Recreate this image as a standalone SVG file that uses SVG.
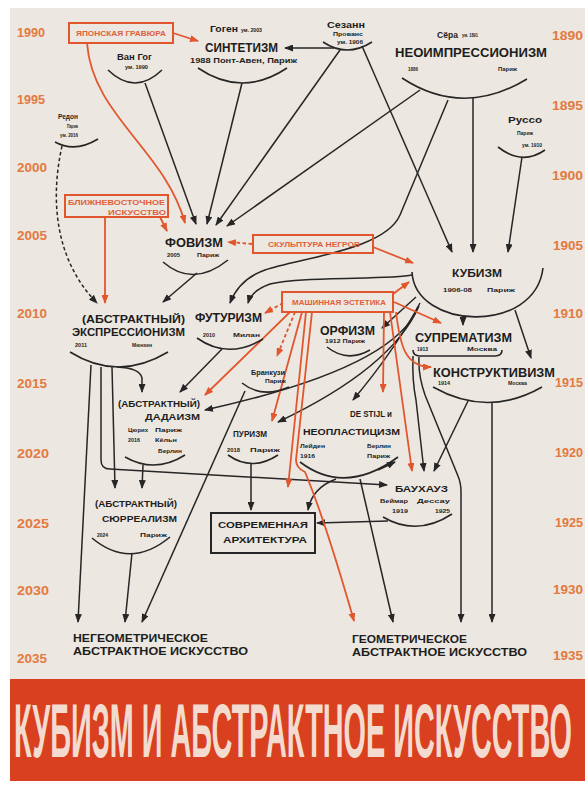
<svg xmlns="http://www.w3.org/2000/svg" width="585" height="789" viewBox="0 0 585 789">
<defs>
<style>
.t{font-family:"Liberation Sans",Arial,sans-serif;font-weight:bold;fill:#1d1d1d}
.o{font-family:"Liberation Sans",Arial,sans-serif;font-weight:bold;fill:#e0603a}
.yr{font-family:"Liberation Sans",Arial,sans-serif;font-weight:bold;fill:#e37a40;font-size:12px}
.ln{fill:none;stroke:#262626;stroke-width:1.5}
.ol{fill:none;stroke:#e2562e;stroke-width:1.8}
.arc{fill:none;stroke:#262626;stroke-width:1.6}
.box{fill:none;stroke:#e2562e;stroke-width:2}
.d{stroke-dasharray:3.5,2.5}
.title{font-family:"Liberation Sans",Arial,sans-serif;font-weight:bold;fill:#f3dccf;font-size:26px}
</style>
<marker id="ab" markerUnits="userSpaceOnUse" markerWidth="9" markerHeight="7" refX="8" refY="3.5" orient="auto"><path d="M0,0 L9,3.5 L0,7 z" fill="#262626"/></marker>
<marker id="ao" markerUnits="userSpaceOnUse" markerWidth="9" markerHeight="7" refX="8" refY="3.5" orient="auto"><path d="M0,0 L9,3.5 L0,7 z" fill="#e2562e"/></marker>
</defs>
<rect x="0" y="0" width="585" height="789" fill="#ffffff"/>
<rect x="10" y="8" width="575" height="671" fill="#ece7e0"/>
<rect x="10" y="679" width="575" height="102" fill="#d9401f"/>
<g id="title" transform="translate(14,757) scale(1,2.9)">
<text class="title" x="0" y="0" textLength="558" lengthAdjust="spacingAndGlyphs">КУБИЗМ И АБСТРАКТНОЕ ИСКУССТВО</text>
</g>

<g id="years">
<text class="yr" x="17" y="37" textLength="28" lengthAdjust="spacingAndGlyphs">1990</text>
<text class="yr" x="17" y="104" textLength="28" lengthAdjust="spacingAndGlyphs">1995</text>
<text class="yr" x="17" y="172" textLength="30" lengthAdjust="spacingAndGlyphs">2000</text>
<text class="yr" x="17" y="240" textLength="30" lengthAdjust="spacingAndGlyphs">2005</text>
<text class="yr" x="17" y="318" textLength="30" lengthAdjust="spacingAndGlyphs">2010</text>
<text class="yr" x="17" y="388" textLength="30" lengthAdjust="spacingAndGlyphs">2015</text>
<text class="yr" x="17" y="458" textLength="32" lengthAdjust="spacingAndGlyphs">2020</text>
<text class="yr" x="17" y="528" textLength="32" lengthAdjust="spacingAndGlyphs">2025</text>
<text class="yr" x="17" y="595" textLength="32" lengthAdjust="spacingAndGlyphs">2030</text>
<text class="yr" x="17" y="663" textLength="30" lengthAdjust="spacingAndGlyphs">2035</text>
<text class="yr" x="552" y="40" textLength="31" lengthAdjust="spacingAndGlyphs">1890</text>
<text class="yr" x="552" y="110" textLength="31" lengthAdjust="spacingAndGlyphs">1895</text>
<text class="yr" x="552" y="180" textLength="31" lengthAdjust="spacingAndGlyphs">1900</text>
<text class="yr" x="553" y="250" textLength="30" lengthAdjust="spacingAndGlyphs">1905</text>
<text class="yr" x="553" y="318" textLength="30" lengthAdjust="spacingAndGlyphs">1910</text>
<text class="yr" x="555" y="387" textLength="28" lengthAdjust="spacingAndGlyphs">1915</text>
<text class="yr" x="555" y="457" textLength="28" lengthAdjust="spacingAndGlyphs">1920</text>
<text class="yr" x="555" y="527" textLength="28" lengthAdjust="spacingAndGlyphs">1925</text>
<text class="yr" x="553" y="594" textLength="30" lengthAdjust="spacingAndGlyphs">1930</text>
<text class="yr" x="553" y="660" textLength="30" lengthAdjust="spacingAndGlyphs">1935</text>
</g>

<g id="connectors">
<path class="ln" d="M145,83 L196,224" marker-end="url(#ab)"/>
<path class="ln" d="M242,83 L207,224" marker-end="url(#ab)"/>
<path class="ln" d="M340,50 L216,225" marker-end="url(#ab)"/>
<path class="ln" d="M420,90 L227,226" marker-end="url(#ab)"/>
<path class="ln" d="M334,48 L285,48" marker-end="url(#ab)"/>
<path class="ln" d="M362,46 L452,252" marker-end="url(#ab)"/>
<path class="ln" d="M473,98 L473,252" marker-end="url(#ab)"/>
<path class="ln" d="M522,157 L508,252" marker-end="url(#ab)"/>
<path class="ln" d="M448,100 L400,215 C385,250 300,258 265,270 C245,277 235,290 230,303" marker-end="url(#ab)"/>
<path class="ln" d="M412,275 C390,280 300,276 270,284 C256,289 250,296 248,303" marker-end="url(#ab)"/>
<path class="ln" d="M197,273 L163,302" marker-end="url(#ab)"/>
<path class="ln d" d="M62,146 C50,200 55,260 97,303" marker-end="url(#ab)"/>
<path class="ln" d="M222,349 L180,392" marker-end="url(#ab)"/>
<path class="ln" d="M117,367 Q140,368 142,378 L142,392" marker-end="url(#ab)"/>
<path class="ln" d="M112,367 L115,488" marker-end="url(#ab)"/>
<path class="ln" d="M91,365 L78,622" marker-end="url(#ab)"/>
<path class="ln" d="M101,367 L101,460 Q101,469 110,469 L387,485" marker-end="url(#ab)"/>
<path class="ln" d="M143,465 L142,488" marker-end="url(#ab)"/>
<path class="ln" d="M132,553 L125,622" marker-end="url(#ab)"/>
<path class="ln" d="M245,391 L142,622" marker-end="url(#ab)"/>
<path class="ln" d="M416,297 L382,328" marker-end="url(#ab)"/>
<path class="ln" d="M420,303 Q395,350 353,400" marker-end="url(#ab)"/>
<path class="ln" d="M419,306 Q392,368 278,422" marker-end="url(#ab)"/>
<path class="ln" d="M418,307 Q395,368 205,410" marker-end="url(#ab)"/>
<path class="ln" d="M463,316 L463,325" marker-end="url(#ab)"/>
<path class="ln" d="M515,310 L531,358" marker-end="url(#ab)"/>
<path class="ln" d="M413,356 Q412,380 416,400 L424,471" marker-end="url(#ab)"/>
<path class="ln" d="M419,357 Q418,375 425,395 L458,476 Q461,483 461,492 L461,622" marker-end="url(#ab)"/>
<path class="ln" d="M468,401 L434,471" marker-end="url(#ab)"/>
<path class="ln" d="M492,403 L492,622" marker-end="url(#ab)"/>
<path class="ln" d="M251,463 L251,510" marker-end="url(#ab)"/>
<path class="ln" d="M336,479 Q312,488 308,510" marker-end="url(#ab)"/>
<path class="ln" d="M388,521 L317,523" marker-end="url(#ab)"/>
<path class="ln" d="M378,470 L395,462" marker-end="url(#ab)"/>
<path class="ln" d="M360,479 L393,622" marker-end="url(#ab)"/>
<path class="ol" d="M173,33 L198,41" marker-end="url(#ao)"/>
<path class="ol" d="M87,43 C92,115 165,150 185,223" marker-end="url(#ao)"/>
<path class="ol" d="M160,217 L167,231" marker-end="url(#ao)"/>
<path class="ol" d="M105,217 L105,303" marker-end="url(#ao)"/>
<path class="ol d" d="M252,244 L228,242" marker-end="url(#ao)"/>
<path class="ol" d="M373,247 L413,263" marker-end="url(#ao)"/>
<path class="ol d" d="M283,303 L265,313" marker-end="url(#ao)"/>
<path class="ol d" d="M295,312 L277,356" marker-end="url(#ao)"/>
<path class="ol" d="M290,312 L205,395" marker-end="url(#ao)"/>
<path class="ol" d="M302,312 L272,421" marker-end="url(#ao)"/>
<path class="ol" d="M306,312 L288,487" marker-end="url(#ao)"/>
<path class="ol" d="M312,312 L296,460 Q296,468 305,472 Q325,520 354,621" marker-end="url(#ao)"/>
<path class="ol" d="M384,312 L383,392" marker-end="url(#ao)"/>
<path class="ol" d="M390,312 L412,471" marker-end="url(#ao)"/>
<path class="ol" d="M394,302 L441,323" marker-end="url(#ao)"/>
<path class="ol" d="M396,312 C400,345 405,367 431,367" marker-end="url(#ao)"/>
<path class="ol" d="M393,294 L409,282" marker-end="url(#ao)"/>
</g>

<g id="japanese-print">
<rect class="box" x="69" y="23" width="104" height="20"/>
<text class="o" x="76" y="36" font-size="6.5" textLength="90" lengthAdjust="spacingAndGlyphs">ЯПОНСКАЯ ГРАВЮРА</text>
</g>
<g id="near-east">
<rect class="box" x="65" y="195" width="103" height="22"/>
<text class="o" x="68" y="205" font-size="6.5" textLength="97" lengthAdjust="spacingAndGlyphs">БЛИЖНЕВОСТОЧНОЕ</text>
<text class="o" x="108" y="215" font-size="6.5" textLength="58" lengthAdjust="spacingAndGlyphs">ИСКУССТВО</text>
</g>
<g id="negro-sculpture">
<rect class="box" x="253" y="235" width="120" height="18"/>
<text class="o" x="268" y="247" font-size="6.5" textLength="92" lengthAdjust="spacingAndGlyphs">СКУЛЬПТУРА НЕГРОВ</text>
</g>
<g id="machine-esthetic">
<rect class="box" x="282" y="292" width="111" height="20"/>
<text class="o" x="292" y="305" font-size="6.5" textLength="94" lengthAdjust="spacingAndGlyphs">МАШИННАЯ ЭСТЕТИКА</text>
</g>

<g id="vangogh">
<text class="t" x="117" y="60" font-size="8.5" textLength="35" lengthAdjust="spacingAndGlyphs">Ван Гог</text>
<text class="t" x="125" y="69" font-size="5" textLength="23" lengthAdjust="spacingAndGlyphs">ум. 1990</text>
<path class="arc" d="M108,70 Q135,96 162,70"/>
</g>
<g id="synthetism">
<text class="t" x="210" y="32" font-size="8.5" textLength="28" lengthAdjust="spacingAndGlyphs">Гоген</text>
<text class="t" x="241" y="32" font-size="5" textLength="21" lengthAdjust="spacingAndGlyphs">ум. 2003</text>
<text class="t" x="205" y="52" font-size="12" textLength="73" lengthAdjust="spacingAndGlyphs">СИНТЕТИЗМ</text>
<text class="t" x="190" y="63" font-size="6.5" textLength="107" lengthAdjust="spacingAndGlyphs">1988 Понт-Авен, Париж</text>
<path class="arc" d="M198,68 Q242,98 287,68"/>
</g>
<g id="cezanne">
<text class="t" x="327" y="28" font-size="9.5" textLength="38" lengthAdjust="spacingAndGlyphs">Сезанн</text>
<text class="t" x="333" y="36" font-size="5.5" textLength="30" lengthAdjust="spacingAndGlyphs">Прованс</text>
<text class="t" x="337" y="43.5" font-size="5" textLength="26" lengthAdjust="spacingAndGlyphs">ум. 1906</text>
<path class="arc" d="M323,42 Q347,58 372,42"/>
</g>
<g id="neoimpressionism">
<text class="t" x="437" y="38" font-size="9.5" textLength="21" lengthAdjust="spacingAndGlyphs">Сёра</text>
<text class="t" x="462" y="37" font-size="4.5" textLength="16" lengthAdjust="spacingAndGlyphs">ум. 1891</text>
<text class="t" x="395" y="57" font-size="12" textLength="152" lengthAdjust="spacingAndGlyphs">НЕОИМПРЕССИОНИЗМ</text>
<text class="t" x="408" y="70.5" font-size="5" textLength="10" lengthAdjust="spacingAndGlyphs">1886</text>
<text class="t" x="498" y="71" font-size="5.5" textLength="19" lengthAdjust="spacingAndGlyphs">Париж</text>
<path class="arc" d="M402,78 Q463,118 527,79"/>
</g>
<g id="redon">
<text class="t" x="58" y="119" font-size="7.5" textLength="20" lengthAdjust="spacingAndGlyphs">Редон</text>
<text class="t" x="67" y="128" font-size="4.5" textLength="11" lengthAdjust="spacingAndGlyphs">Париж</text>
<text class="t" x="60" y="137" font-size="4.5" textLength="18" lengthAdjust="spacingAndGlyphs">ум. 2016</text>
<path class="arc" d="M55,142 Q75,153 98,139"/>
</g>
<g id="rousseau">
<text class="t" x="508" y="123" font-size="9" textLength="34" lengthAdjust="spacingAndGlyphs">Руссо</text>
<text class="t" x="517" y="135" font-size="4.5" textLength="16" lengthAdjust="spacingAndGlyphs">Париж</text>
<text class="t" x="522" y="147" font-size="4.5" textLength="20" lengthAdjust="spacingAndGlyphs">ум. 1910</text>
<path class="arc" d="M498,147 Q522,166 545,150"/>
</g>
<g id="fauvism">
<text class="t" x="165" y="247" font-size="12" textLength="58" lengthAdjust="spacingAndGlyphs">ФОВИЗМ</text>
<text class="t" x="167" y="257" font-size="5.5" textLength="13" lengthAdjust="spacingAndGlyphs">2005</text>
<text class="t" x="197" y="257" font-size="5.5" textLength="22" lengthAdjust="spacingAndGlyphs">Париж</text>
<path class="arc" d="M163,262 Q193,288 228,260"/>
</g>
<g id="cubism">
<text class="t" x="452" y="277" font-size="11" textLength="50" lengthAdjust="spacingAndGlyphs">КУБИЗМ</text>
<text class="t" x="443" y="292" font-size="5.5" textLength="29" lengthAdjust="spacingAndGlyphs">1906-08</text>
<text class="t" x="487" y="292" font-size="5.5" textLength="28" lengthAdjust="spacingAndGlyphs">Париж</text>
<path class="arc" d="M412,272 C415,330 535,335 543,268"/>
</g>
<g id="expressionism">
<text class="t" x="82" y="323" font-size="11.5" textLength="103" lengthAdjust="spacingAndGlyphs">(АБСТРАКТНЫЙ)</text>
<text class="t" x="72" y="336" font-size="11.5" textLength="113" lengthAdjust="spacingAndGlyphs">ЭКСПРЕССИОНИЗМ</text>
<text class="t" x="75" y="347" font-size="5.5" textLength="12" lengthAdjust="spacingAndGlyphs">2011</text>
<text class="t" x="132" y="347" font-size="5.5" textLength="20" lengthAdjust="spacingAndGlyphs">Мюнхен</text>
<path class="arc" d="M70,352 Q118,382 168,352"/>
</g>
<g id="futurism">
<text class="t" x="195" y="322" font-size="12" textLength="67" lengthAdjust="spacingAndGlyphs">ФУТУРИЗМ</text>
<text class="t" x="203" y="337" font-size="5.5" textLength="12" lengthAdjust="spacingAndGlyphs">2010</text>
<text class="t" x="233" y="337" font-size="5.5" textLength="27" lengthAdjust="spacingAndGlyphs">Милан</text>
<path class="arc" d="M197,338 Q228,360 263,339"/>
</g>
<g id="orphism">
<text class="t" x="320" y="335" font-size="12" textLength="55" lengthAdjust="spacingAndGlyphs">ОРФИЗМ</text>
<text class="t" x="325" y="343" font-size="5.5" textLength="40" lengthAdjust="spacingAndGlyphs">1912 Париж</text>
<path class="arc" d="M327,347 Q347,363 370,350"/>
</g>
<g id="suprematism">
<text class="t" x="415" y="342" font-size="12.5" textLength="97" lengthAdjust="spacingAndGlyphs">СУПРЕМАТИЗМ</text>
<text class="t" x="417" y="351" font-size="5.5" textLength="11" lengthAdjust="spacingAndGlyphs">1913</text>
<text class="t" x="467" y="351" font-size="5.5" textLength="30" lengthAdjust="spacingAndGlyphs">Москва</text>
<path class="arc" d="M413,350 Q413,356 420,356 L495,356 Q502,356 502,350"/>
</g>
<g id="constructivism">
<text class="t" x="433" y="377" font-size="12.5" textLength="122" lengthAdjust="spacingAndGlyphs">КОНСТРУКТИВИЗМ</text>
<text class="t" x="438" y="384.5" font-size="5.5" textLength="12" lengthAdjust="spacingAndGlyphs">1914</text>
<text class="t" x="508" y="384.5" font-size="5.5" textLength="19" lengthAdjust="spacingAndGlyphs">Москва</text>
<path class="arc" d="M433,387 Q488,418 542,387"/>
</g>
<g id="brancusi">
<text class="t" x="251" y="375" font-size="6.5" textLength="34" lengthAdjust="spacingAndGlyphs">Бранкузи</text>
<text class="t" x="265" y="382.5" font-size="5.5" textLength="21" lengthAdjust="spacingAndGlyphs">Париж</text>
<path class="arc" d="M242,383 Q262,399 289,387"/>
</g>
<g id="dadaism">
<text class="t" x="118" y="407" font-size="9.5" textLength="82" lengthAdjust="spacingAndGlyphs">(АБСТРАКТНЫЙ)</text>
<text class="t" x="145" y="420" font-size="9.5" textLength="55" lengthAdjust="spacingAndGlyphs">ДАДАИЗМ</text>
<text class="t" x="128" y="432" font-size="5.5" textLength="20" lengthAdjust="spacingAndGlyphs">Цюрих</text>
<text class="t" x="155" y="432" font-size="5.5" textLength="27" lengthAdjust="spacingAndGlyphs">Париж</text>
<text class="t" x="128" y="442" font-size="5.5" textLength="12" lengthAdjust="spacingAndGlyphs">2016</text>
<text class="t" x="155" y="442" font-size="5.5" textLength="22" lengthAdjust="spacingAndGlyphs">Кёльн</text>
<text class="t" x="158" y="453" font-size="5.5" textLength="24" lengthAdjust="spacingAndGlyphs">Берлин</text>
<path class="arc" d="M125,457 Q155,474 185,455"/>
</g>
<g id="purism">
<text class="t" x="233" y="437" font-size="9" textLength="34" lengthAdjust="spacingAndGlyphs">ПУРИЗМ</text>
<text class="t" x="227" y="452" font-size="5.5" textLength="13" lengthAdjust="spacingAndGlyphs">2018</text>
<text class="t" x="250" y="452" font-size="5.5" textLength="30" lengthAdjust="spacingAndGlyphs">Париж</text>
<path class="arc" d="M228,455 Q252,472 278,455"/>
</g>
<g id="destijl">
<text class="t" x="350" y="417" font-size="8.5" textLength="42" lengthAdjust="spacingAndGlyphs">DE STIJL и</text>
<text class="t" x="303" y="435" font-size="9.5" textLength="97" lengthAdjust="spacingAndGlyphs">НЕОПЛАСТИЦИЗМ</text>
<text class="t" x="300" y="448" font-size="5.5" textLength="25" lengthAdjust="spacingAndGlyphs">Лейден</text>
<text class="t" x="367" y="448" font-size="5.5" textLength="24" lengthAdjust="spacingAndGlyphs">Берлин</text>
<text class="t" x="300" y="458" font-size="5.5" textLength="15" lengthAdjust="spacingAndGlyphs">1916</text>
<text class="t" x="367" y="458" font-size="5.5" textLength="23" lengthAdjust="spacingAndGlyphs">Париж</text>
<path class="arc" d="M300,462 Q345,496 398,457"/>
</g>
<g id="bauhaus">
<text class="t" x="395" y="492" font-size="9" textLength="53" lengthAdjust="spacingAndGlyphs">БАУХАУЗ</text>
<text class="t" x="380" y="503" font-size="5.5" textLength="28" lengthAdjust="spacingAndGlyphs">Веймар</text>
<text class="t" x="417" y="503" font-size="5.5" textLength="33" lengthAdjust="spacingAndGlyphs">Дессау</text>
<text class="t" x="392" y="513" font-size="5.5" textLength="16" lengthAdjust="spacingAndGlyphs">1919</text>
<text class="t" x="435" y="513" font-size="5.5" textLength="15" lengthAdjust="spacingAndGlyphs">1925</text>
<path class="arc" d="M383,517 Q417,537 452,514"/>
</g>
<g id="modern-architecture">
<rect x="211" y="513" width="104" height="40" fill="none" stroke="#262626" stroke-width="2"/>
<text class="t" x="218" y="528" font-size="8.5" textLength="90" lengthAdjust="spacingAndGlyphs">СОВРЕМЕННАЯ</text>
<text class="t" x="223" y="543" font-size="8.5" textLength="84" lengthAdjust="spacingAndGlyphs">АРХИТЕКТУРА</text>
</g>
<g id="surrealism">
<text class="t" x="95" y="507" font-size="9.5" textLength="82" lengthAdjust="spacingAndGlyphs">(АБСТРАКТНЫЙ)</text>
<text class="t" x="102" y="522" font-size="9.5" textLength="75" lengthAdjust="spacingAndGlyphs">СЮРРЕАЛИЗМ</text>
<text class="t" x="97" y="537" font-size="5.5" textLength="11" lengthAdjust="spacingAndGlyphs">2024</text>
<text class="t" x="140" y="537" font-size="5.5" textLength="27" lengthAdjust="spacingAndGlyphs">Париж</text>
<path class="arc" d="M92,538 Q130,570 170,537"/>
</g>
<g id="non-geometric">
<text class="t" x="73" y="642" font-size="11.5" textLength="135" lengthAdjust="spacingAndGlyphs">НЕГЕОМЕТРИЧЕСКОЕ</text>
<text class="t" x="73" y="655" font-size="11.5" textLength="175" lengthAdjust="spacingAndGlyphs">АБСТРАКТНОЕ ИСКУССТВО</text>
</g>
<g id="geometric">
<text class="t" x="352" y="643" font-size="11.5" textLength="115" lengthAdjust="spacingAndGlyphs">ГЕОМЕТРИЧЕСКОЕ</text>
<text class="t" x="352" y="656" font-size="11.5" textLength="175" lengthAdjust="spacingAndGlyphs">АБСТРАКТНОЕ ИСКУССТВО</text>
</g>
</svg>
